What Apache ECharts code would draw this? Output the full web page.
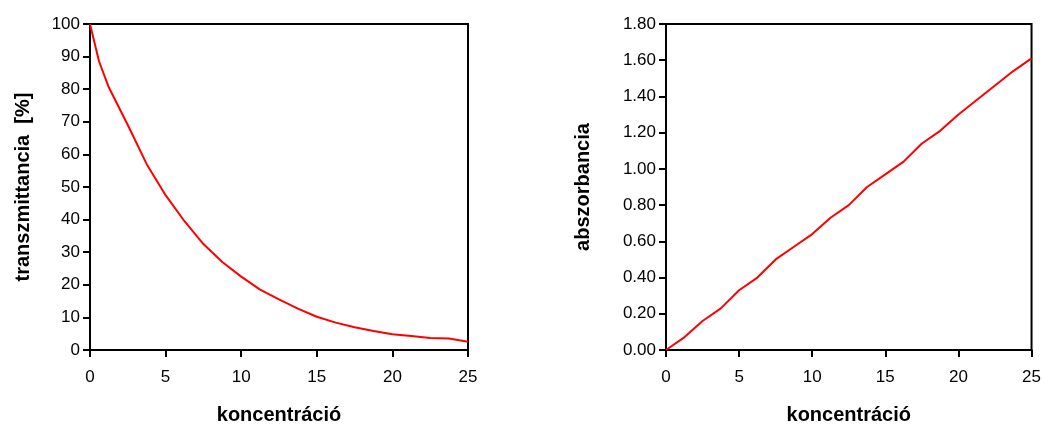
<!DOCTYPE html>
<html>
<head>
<meta charset="utf-8">
<script src="https://cdn.jsdelivr.net/npm/echarts@6/dist/echarts.min.js"></script>
<style>
  html, body { margin: 0; padding: 0; background: #fff; }
  #chart { width: 1044px; height: 430px; }
</style>
</head>
<body>
<div id="chart"></div>
<script>
// left panel: concentration vs transmittance [%]
const concT = [0, 0.6, 1.25, 2.5, 3.75, 5, 6.25, 7.5, 8.75, 10, 11.25, 12.5, 13.75, 15, 16.25, 17.5, 18.75, 20, 21.25, 22.5, 23.75, 25];
const transmittance = [100, 88.5, 80.5, 69, 57, 47.5, 39.5, 32.5, 27, 22.5, 18.5, 15.5, 12.7, 10.2, 8.4, 7.0, 5.8, 4.8, 4.3, 3.7, 3.5, 2.5];
// right panel: concentration vs absorbance
const concA = [0, 1.25, 2.5, 3.75, 5, 6.25, 7.5, 8.75, 10, 11.25, 12.5, 13.75, 15, 16.25, 17.5, 18.75, 20, 21.25, 22.5, 23.75, 25];
const absorbance = [0, 0.07, 0.16, 0.23, 0.33, 0.40, 0.50, 0.57, 0.64, 0.73, 0.80, 0.90, 0.97, 1.04, 1.14, 1.21, 1.30, 1.38, 1.46, 1.54, 1.61];

const xName = "koncentráció";
const leftYName = "transzmittancia  [%]";
const rightYName = "abszorbancia";

const font = "Liberation Sans, Arial, sans-serif";

const axisLine = { lineStyle: { color: "#000", width: 2 } };
const axisTick = { length: 7, lineStyle: { color: "#000", width: 2 } };
const nameStyle = { color: "#000", fontSize: 20, fontWeight: "bold", fontFamily: font };
const labelStyle = { color: "#000", fontSize: 17, fontFamily: font };

const xAxis = (gridIndex) => ({
  type: "value",
  gridIndex: gridIndex,
  min: 0,
  max: 25,
  interval: 5,
  name: xName,
  nameLocation: "middle",
  nameGap: 55,
  nameTextStyle: nameStyle,
  axisLine: axisLine,
  axisTick: axisTick,
  axisLabel: Object.assign({ margin: 19 }, labelStyle),
  splitLine: { show: false },
});

const myChart = echarts.init(document.getElementById("chart"));

const options = {
  animation: false,
  grid: [
    { left: 90, right: 576, top: 24, bottom: 78, show: true, borderColor: "#000", borderWidth: 2 },
    { left: 666, right: 10, top: 24, bottom: 78, show: true, borderColor: "#000", borderWidth: 2 },
  ],
  xAxis: [xAxis(0), xAxis(1)],
  yAxis: [
    {
      type: "value",
      gridIndex: 0,
      min: 0,
      max: 100,
      interval: 10,
      name: leftYName,
      nameLocation: "middle",
      nameGap: 57,
      nameTextStyle: nameStyle,
      axisLine: axisLine,
      axisTick: axisTick,
      axisLabel: Object.assign({ margin: 10 }, labelStyle),
      splitLine: { show: false },
    },
    {
      type: "value",
      gridIndex: 1,
      min: 0,
      max: 1.8,
      interval: 0.2,
      name: rightYName,
      nameLocation: "middle",
      nameGap: 73,
      nameTextStyle: nameStyle,
      axisLine: axisLine,
      axisTick: axisTick,
      axisLabel: Object.assign({ margin: 10, formatter: (v) => v.toFixed(2) }, labelStyle),
      splitLine: { show: false },
    },
  ],
  series: [
    {
      type: "line",
      xAxisIndex: 0,
      yAxisIndex: 0,
      showSymbol: false,
      lineStyle: { color: "#ff0000", width: 2 },
      data: concT.map((c, i) => [c, transmittance[i]]),
    },
    {
      type: "line",
      xAxisIndex: 1,
      yAxisIndex: 1,
      showSymbol: false,
      lineStyle: { color: "#ff0000", width: 2 },
      data: concA.map((c, i) => [c, absorbance[i]]),
    },
  ],
};

myChart.setOption(options);
</script>
</body>
</html>
